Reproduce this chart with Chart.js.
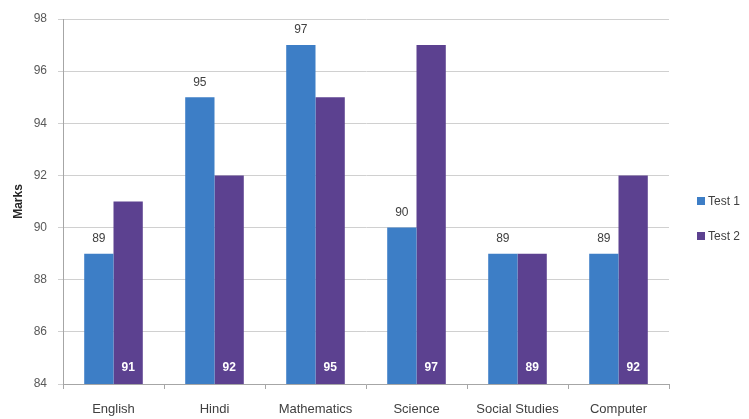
<!DOCTYPE html>
<html>
<head>
<meta charset="utf-8">
<script src="https://cdn.jsdelivr.net/npm/chart.js@4"></script>
<style>
html,body{margin:0;padding:0;background:#fff;}
#wrap{width:749px;height:419px;position:relative;}
</style>
</head>
<body>
<div id="wrap"><canvas id="c" width="749" height="419"></canvas></div>
<script>
const categories = ["English", "Hindi", "Mathematics", "Science", "Social Studies", "Computer"];
const test1 = [89, 95, 97, 90, 89, 89];
const test2 = [91, 92, 95, 97, 89, 92];
const seriesNames = ["Test 1", "Test 2"];
const seriesColors = ["#3d7ec6", "#5c4190"];
const yMin = 84, yMax = 98, yStep = 2;

const FONT = "'Liberation Sans', 'Open Sans', sans-serif";

const labelPlugin = {
  id: 'barLabels',
  afterDatasetsDraw(chart) {
    const ctx = chart.ctx;
    const bottom = chart.chartArea.bottom;
    ctx.save();
    ctx.textAlign = 'center';
    ctx.textBaseline = 'middle';
    // Test 1: above bar
    const m0 = chart.getDatasetMeta(0);
    ctx.font = "12px " + FONT;
    ctx.fillStyle = '#404040';
    m0.data.forEach((bar, i) => {
      ctx.fillText(String(chart.data.datasets[0].data[i]), bar.x, bar.y - 15);
    });
    // Test 2: inside base
    const m1 = chart.getDatasetMeta(1);
    ctx.font = "bold 12px " + FONT;
    ctx.fillStyle = '#ffffff';
    m1.data.forEach((bar, i) => {
      ctx.fillText(String(chart.data.datasets[1].data[i]), bar.x, bottom - 16);
    });
    // Legend
    const ds = chart.data.datasets;
    ctx.textAlign = 'left';
    ctx.font = "12px " + FONT;
    ds.forEach((d, i) => {
      const y = 201 + i * 35;
      ctx.fillStyle = d.backgroundColor;
      ctx.fillRect(697, y - 4, 8, 8);
      ctx.fillStyle = '#404040';
      ctx.fillText(d.label, 708, y + 1);
    });
    ctx.restore();
  }
};

new Chart(document.getElementById('c'), {
  type: 'bar',
  data: {
    labels: categories,
    datasets: [
      { label: seriesNames[0], data: test1, backgroundColor: seriesColors[0], borderWidth: 0 },
      { label: seriesNames[1], data: test2, backgroundColor: seriesColors[1], borderWidth: 0 }
    ]
  },
  options: {
    responsive: false,
    animation: false,
    layout: { padding: { left: 0, right: 80, top: 19, bottom: 0 } },
    plugins: { legend: { display: false }, tooltip: { enabled: false } },
    datasets: { bar: { categoryPercentage: 0.58, barPercentage: 1.0 } },
    scales: {
      x: {
        grid: { display: true, drawOnChartArea: false, drawTicks: true, tickLength: 5, color: '#a6a6a6', offset: true },
        border: { color: '#a6a6a6' },
        ticks: { color: '#404040', font: { size: 13, family: FONT }, padding: 13, maxRotation: 0, autoSkip: false },
        afterFit(scale) { scale.height = 35; }
      },
      y: {
        min: yMin, max: yMax,
        ticks: { stepSize: yStep, color: '#595959', font: { size: 12, family: FONT }, padding: 11 },
        grid: { color: '#d0d0d0', tickLength: 5 },
        border: { color: '#a6a6a6' },
        title: { display: true, text: 'Marks', color: '#262626', font: { size: 12, weight: 'bold', family: FONT }, padding: { top: 11, bottom: 0 } },
        afterFit(scale) { scale.width = 63; }
      }
    }
  },
  plugins: [labelPlugin]
});
</script>
</body>
</html>
